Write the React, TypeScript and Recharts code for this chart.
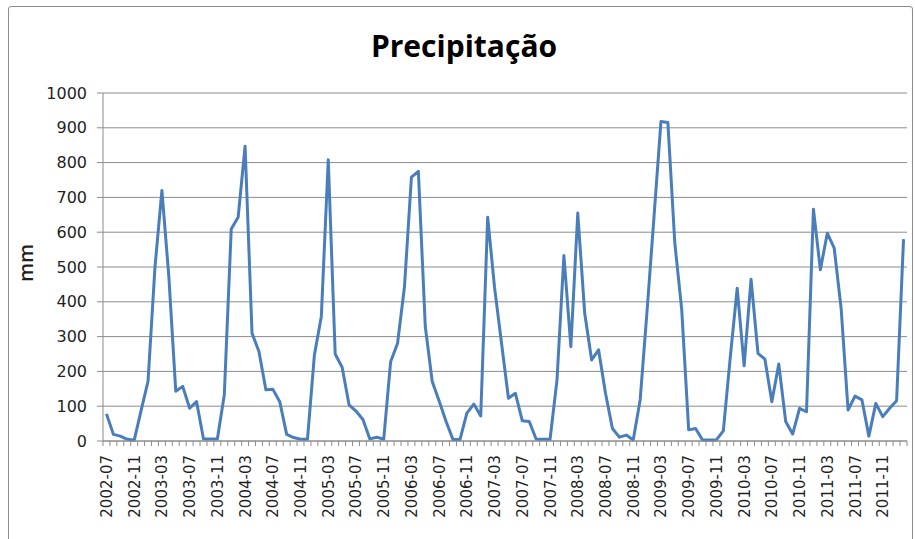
import { LineChart, Line, XAxis, YAxis, CartesianGrid } from 'recharts';

// monthly rainfall, mm, starting 2002-07
const START_YEAR = 2002;
const START_MONTH = 7;

const precipitation = [
  78, 19, 14, 5, 2, 88, 172, 500, 720, 472, 143, 157,
  94, 113, 6, 6, 6, 132, 609, 643, 847, 310, 257, 147,
  149, 113, 19, 10, 5, 5, 247, 358, 808, 250, 212, 104,
  86, 62, 6, 11, 5, 228, 281, 444, 758, 775, 329, 171,
  115, 56, 4, 4, 80, 106, 72, 643, 440, 281, 123, 137,
  58, 56, 5, 5, 5, 175, 533, 271, 655, 367, 233, 262,
  137, 36, 11, 17, 3, 118, 375, 645, 918, 915, 569, 377,
  32, 36, 3, 3, 3, 29, 240, 439, 216, 465, 252, 235,
  113, 221, 56, 20, 94, 84, 666, 492, 597, 554, 380, 89,
  129, 118, 14, 108, 70, 94, 116, 580,
];

const yTicks = [0, 100, 200, 300, 400, 500, 600, 700, 800, 900, 1000];

const months = precipitation.map((_, i) => {
  const m = START_MONTH - 1 + i;
  const y = START_YEAR + Math.floor(m / 12);
  return `${y}-${String((m % 12) + 1).padStart(2, '0')}`;
});

const data = months.map((month, i) => ({ month, mm: precipitation[i] }));

const W = 915;
const H = 539;
const PLOT_LEFT = 103;
const PLOT_RIGHT = 907;
const PLOT_TOP = 93;
const AXIS_Y = 441;
const BAND = (PLOT_RIGHT - PLOT_LEFT) / precipitation.length;
const GRID = '#8c8c8c';
const TEXT = '#1f1f1f';
const TICK_FONT = '"DejaVu Sans", sans-serif';

const XTick = (props: any) => {
  const { x, payload } = props;
  const i = payload.index;
  const half = BAND / 2;
  return (
    <g>
      <line x1={x - half} x2={x - half} y1={AXIS_Y} y2={AXIS_Y + 5} stroke={GRID} />
      {i === months.length - 1 && (
        <line x1={x + half} x2={x + half} y1={AXIS_Y} y2={AXIS_Y + 5} stroke={GRID} />
      )}
      {i % 4 === 0 && (
        <text
          transform={`translate(${x + 5.5},${AXIS_Y + 14}) rotate(-90)`}
          textAnchor="end"
          fontSize={15}
          fontFamily={TICK_FONT}
          fill={TEXT}
        >
          {payload.value}
        </text>
      )}
    </g>
  );
};

export default function App() {
  return (
    <div
      style={{
        position: 'absolute',
        left: 0,
        top: 0,
        width: W,
        height: H,
        overflow: 'hidden',
        background: '#fff',
      }}
    >
      <div
        style={{
          position: 'absolute',
          left: 8,
          top: 6,
          width: 903,
          height: 600,
          border: `1px solid ${GRID}`,
          borderRadius: 3,
        }}
      />
      <LineChart
        width={W}
        height={H}
        data={data}
        margin={{ top: PLOT_TOP, right: W - PLOT_RIGHT, left: 0, bottom: 0 }}
        style={{ position: 'absolute', left: 0, top: 0 }}
      >
        <CartesianGrid vertical={false} stroke={GRID} />
        <XAxis
          dataKey="month"
          interval={0}
          tickLine={false}
          axisLine={{ stroke: GRID }}
          tick={<XTick />}
          tickSize={0}
          tickMargin={0}
          padding={{ left: BAND / 2, right: BAND / 2 }}
          height={H - AXIS_Y}
        />
        <YAxis
          type="number"
          domain={[0, 1000]}
          ticks={yTicks}
          interval={0}
          width={PLOT_LEFT}
          tickSize={6}
          tickMargin={10}
          tickLine={{ stroke: GRID }}
          axisLine={{ stroke: GRID }}
          tick={{ fontSize: 16, fill: TEXT, fontFamily: TICK_FONT }}
        />
        <Line
          type="linear"
          dataKey="mm"
          stroke="#4a7ebb"
          strokeWidth={3}
          strokeLinejoin="round"
          dot={false}
          isAnimationActive={false}
        />
      </LineChart>
      <svg
        width={W}
        height={H}
        style={{ position: 'absolute', left: 0, top: 0, pointerEvents: 'none' }}
      >
        <text
          x={464}
          y={57}
          textAnchor="middle"
          fontSize={30}
          fontWeight={700}
          fontFamily='"Open Sans", sans-serif'
          fill="#000"
        >
          Precipitação
        </text>
        <text
          transform="translate(33,263) rotate(-90)"
          textAnchor="middle"
          fontSize={20}
          fontWeight={600}
          fontFamily='"Open Sans", sans-serif'
          fill={TEXT}
        >
          mm
        </text>
      </svg>
    </div>
  );
}
